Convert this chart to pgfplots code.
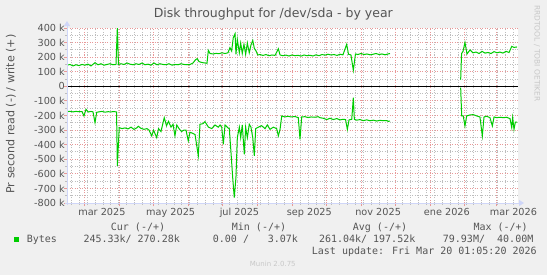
\documentclass[border=0pt]{standalone}
\usepackage{fontspec}
\setmainfont{DejaVu Sans}
\newfontfamily\monofont{DejaVu Sans Mono}
\usepackage{pgfplots}
\pgfplotsset{compat=1.18}
\usetikzlibrary{arrows.meta}
\definecolor{bgcol}{HTML}{F0F0F0}
\definecolor{fontcol}{HTML}{555555}
\definecolor{axcol}{HTML}{CFD6F8}
\definecolor{mgrid}{HTML}{E89898}
\definecolor{mingrid}{HTML}{BDBDBD}
\definecolor{linegreen}{HTML}{00CC00}
\definecolor{faint}{HTML}{C8C8C8}

\pgfplotstableread{
day val
43.1 145
45.7 150
48.4 140
51.0 148
53.7 142
56.4 150
59.0 145
61.7 152
64.3 140
67.9 162
70.5 148
73.2 155
75.9 145
78.5 150
81.2 155
83.9 148
86.5 150
87.7 405
88.7 150
90.9 155
93.6 150
96.3 160
98.9 152
101.6 148
104.3 155
106.9 150
109.6 160
112.2 148
114.9 152
117.6 145
120.2 160
122.9 148
125.5 155
128.2 150
130.9 148
133.5 155
136.2 145
138.8 150
141.5 148
144.2 155
146.8 150
149.5 148
152.1 150
154.8 160
157.0 182
158.6 190
160.1 170
161.9 165
163.7 162
165.4 160
167.2 158
168.4 247
169.9 225
172.5 222
175.2 226
177.9 224
180.5 230
183.2 225
185.8 230
187.6 265
189.1 242
190.5 333
192.1 361
192.9 220
194.1 322
195.9 230
197.1 297
198.5 225
200.0 288
201.5 220
203.0 297
204.7 230
206.2 283
207.8 315
209.2 260
210.7 243
212.2 215
214.2 218
216.9 212
219.5 218
222.2 210
224.9 215
227.5 212
230.5 258
232.0 215
234.6 210
237.3 214
239.9 208
242.6 215
245.3 210
247.9 213
250.6 207
253.3 215
255.9 210
258.6 213
261.2 208
263.9 216
266.6 210
269.2 218
271.9 214
274.5 220
277.2 215
279.9 218
282.5 212
285.2 220
287.8 216
291.1 288
292.7 220
294.9 215
297.0 110
298.9 222
301.1 218
303.8 225
306.5 218
309.1 222
311.8 216
314.4 220
317.1 225
319.8 218
322.4 222
325.1 216
327.8 222
329.5 225
360 nan
392.2 46
393.0 225
394.3 240
396.0 301
397.8 222
400.5 250
403.1 230
405.8 235
408.5 225
411.1 240
413.8 228
416.4 232
419.1 225
421.8 238
424.4 230
427.1 235
429.7 228
432.4 240
435.1 232
437.5 274
439.5 267
442.2 270
}\writedata

\pgfplotstableread{
day val
43.1 -173
45.7 -172
48.4 -175
51.0 -172
53.7 -174
56.4 -173
58.1 -203
59.9 -158
61.9 -176
64.3 -172
66.1 -175
67.9 -249
69.4 -178
71.4 -175
74.1 -172
76.8 -177
79.4 -174
82.1 -175
84.7 -173
87.0 -176
87.7 -546
89.4 -283
91.8 -290
94.5 -285
97.2 -292
99.8 -280
102.5 -295
104.9 -285
106.3 -274
108.7 -288
111.3 -295
114.0 -290
115.8 -300
118.2 -340
119.8 -300
122.6 -352
124.2 -290
126.4 -310
129.3 -215
131.3 -270
133.1 -240
135.3 -280
137.1 -260
138.8 -340
140.4 -265
142.4 -290
144.6 -310
146.8 -300
148.6 -300
150.6 -374
152.1 -315
153.9 -320
156.6 -330
159.5 -477
161.0 -260
163.7 -256
165.4 -242
168.4 -279
171.4 -290
174.3 -265
177.2 -280
178.8 -265
180.3 -280
181.7 -397
183.2 -265
185.8 -285
187.0 -290
188.2 -420
190.0 -625
191.4 -763
192.9 -625
194.1 -352
195.9 -280
197.1 -352
198.5 -265
200.3 -466
201.5 -280
203.0 -352
204.7 -260
206.2 -280
207.8 -352
209.2 -477
210.4 -290
212.7 -280
215.7 -270
218.7 -290
220.7 -265
223.1 -295
226.0 -280
229.0 -290
230.5 -340
232.0 -295
233.5 -203
236.4 -210
239.1 -205
241.7 -210
245.3 -207
248.2 -215
249.7 -363
251.2 -210
254.1 -208
256.8 -214
259.5 -210
263.0 -212
265.7 -208
267.4 -215
270.4 -219
273.4 -228
276.3 -219
279.2 -228
282.3 -221
285.2 -230
288.1 -226
290.1 -228
291.7 -295
293.2 -230
295.6 -226
297.0 -77
297.9 -226
300.0 -232
302.9 -228
305.8 -235
308.9 -230
311.8 -236
314.7 -232
317.7 -238
320.7 -233
323.6 -236
326.6 -235
328.0 -240
329.5 -238
360 nan
392.2 -9
393.1 -203
394.5 -203
396.0 -272
397.5 -203
400.5 -196
403.4 -194
406.4 -203
409.3 -210
411.4 -340
412.9 -210
415.3 -205
418.2 -215
420.3 -272
421.8 -210
424.2 -215
427.1 -212
430.0 -215
433.0 -212
436.0 -222
437.5 -283
438.3 -215
439.5 -295
440.7 -245
442.2 -245
}\readdata

\begin{document}
\begin{tikzpicture}[x=1bp,y=1bp]
\fill[bgcol] (0,0) rectangle (547,275);
\useasboundingbox (0,0) rectangle (547,275);
\begin{axis}[
  name=ax, at={(67bp,72bp)}, anchor=south west,
  scale only axis, width=451bp, height=175bp,
  xmin=43.05, xmax=443.05, ymin=-800, ymax=400,
  axis background/.style={fill=white},
  axis line style={draw=none},
  tick pos=left, tick align=outside,
  xtick={59,90,120,151,181,212,243,273,304,334,365,396,424},
  xticklabels={},
  minor xtick={47,54,...,442},
  ytick={-800,-700,...,400},
  yticklabels={-800 k,-700 k,-600 k,-500 k,-400 k,-300 k,-200 k,-100 k,0,100 k,200 k,300 k,400 k},
  minor ytick={-750,-650,...,350},
  grid=both,
  major grid style={draw=mgrid, dash pattern=on 1bp off 1.5bp, line width=1bp},
  minor grid style={draw=mingrid, dash pattern=on 1bp off 1.5bp, line width=1bp},
  major tick length=3bp, minor tick length=2bp,
  major tick style={draw=mgrid, solid, line width=1bp},
  minor tick style={draw=mingrid, solid, line width=1bp},
  extra x ticks={74,135,196,258,319,380,439},
  extra x tick labels={mar 2025,may 2025,jul 2025,sep 2025,nov 2025,ene 2026,mar 2026},
  extra x tick style={grid=none, major tick length=0pt},
  ticklabel style={font=\fontsize{9.7bp}{11bp}\selectfont, text=fontcol},
  yticklabel style={anchor=east, inner sep=0pt, xshift=1bp},
  xticklabel style={anchor=base, inner sep=0pt, yshift=-12.3bp},
  unbounded coords=jump,
  title={Disk throughput for /dev/sda - by year},
  title style={at={(axis description cs:0.4574,1.0269)}, anchor=base, inner sep=0pt,
    font=\fontsize{12.5bp}{14bp}\selectfont, text=fontcol},
  ylabel={Pr second read (-) / write (+)},
  ylabel style={at={(axis description cs:-0.1242,0.5086)}, anchor=center, inner sep=0pt,
    font=\fontsize{11.1bp}{13bp}\selectfont, text=fontcol},
]
\addplot[linegreen, line width=1bp] table[x=day, y=val] {\writedata};
\addplot[linegreen, line width=1bp] table[x=day, y=val] {\readdata};
\addplot[black, line width=1bp] coordinates {(43.05,0) (443.05,0)};
\end{axis}
\draw[axcol, line width=1bp, -{Triangle[length=5bp, width=6bp]}] ([yshift=-2bp]ax.south west) -- ([yshift=7bp]ax.north west);
\draw[axcol, line width=1bp, -{Triangle[length=5bp, width=6bp]}] ([xshift=-2bp]ax.south west) -- ([xshift=6bp]ax.south east);
\begin{scope}[every node/.style={anchor=base west, inner sep=0pt, text=fontcol, font=\monofont\fontsize{10bp}{12bp}\selectfont}]
\node at (110.7,44.3) {Cur (-/+)};
\node at (231.7,44.3) {Min (-/+)};
\node at (352.7,44.3) {Avg (-/+)};
\node at (473.3,44.3) {Max (-/+)};
\node at (26.7,32.3) {Bytes};
\node at (83.3,32.3) {245.33k/ 270.28k};
\node at (212.7,32.3) {0.00 /};
\node at (267.7,32.3) {3.07k};
\node at (318.8,32.3) {261.04k/ 197.52k};
\node at (442.7,32.3) {79.93M/};
\node at (497.0,32.3) {40.00M};
\node at (311.7,21) {Last update: Fri Mar 20 01:05:20 2026};
\end{scope}
\fill[linegreen] (14,32.7) rectangle (19.3,38.3);
\node[anchor=base, inner sep=0pt, text=faint, font=\fontsize{7bp}{8bp}\selectfont] at (272.8,8.3) {Munin 2.0.75};
\node[rotate=-90, inner sep=0pt, text=faint, font=\fontsize{7.5bp}{9bp}\selectfont] at (537,221.5) {RRDTOOL / TOBI OETIKER};
\end{tikzpicture}
\end{document}
